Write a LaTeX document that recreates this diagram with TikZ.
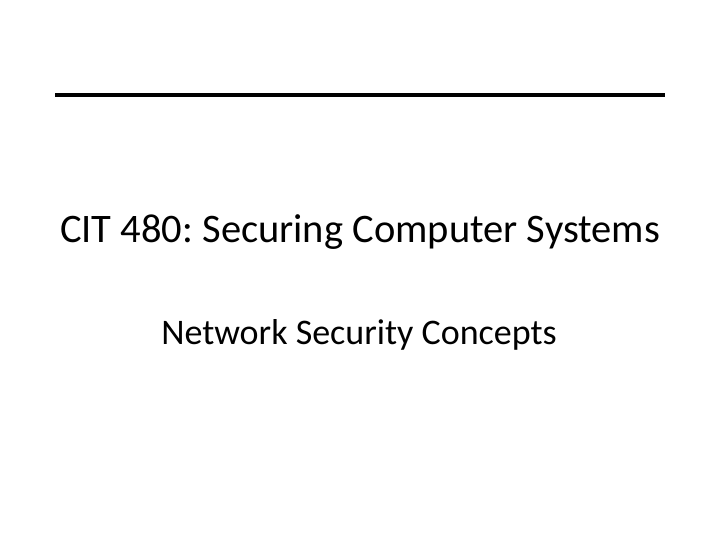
\documentclass[tikz,border=0pt]{standalone}
\usepackage{fontspec}
\setmainfont{Carlito}
\frenchspacing
\begin{document}
\begin{tikzpicture}[x=1pt,y=-1pt,txt/.style={inner sep=0pt,anchor=base}]
\useasboundingbox (0,0) rectangle (720,540);
\coordinate (l) at (55,95);
\coordinate (r) at (665,95);
\draw[line width=4pt] (l) -- (r);
\node[txt,font=\fontsize{40.5}{44}\selectfont] (title) at (360,243) {CIT 480: Securing Computer Systems};
\node[txt,font=\fontsize{36}{40}\selectfont] (sub) at (359,344) {Network Security Concepts};
\end{tikzpicture}
\end{document}
